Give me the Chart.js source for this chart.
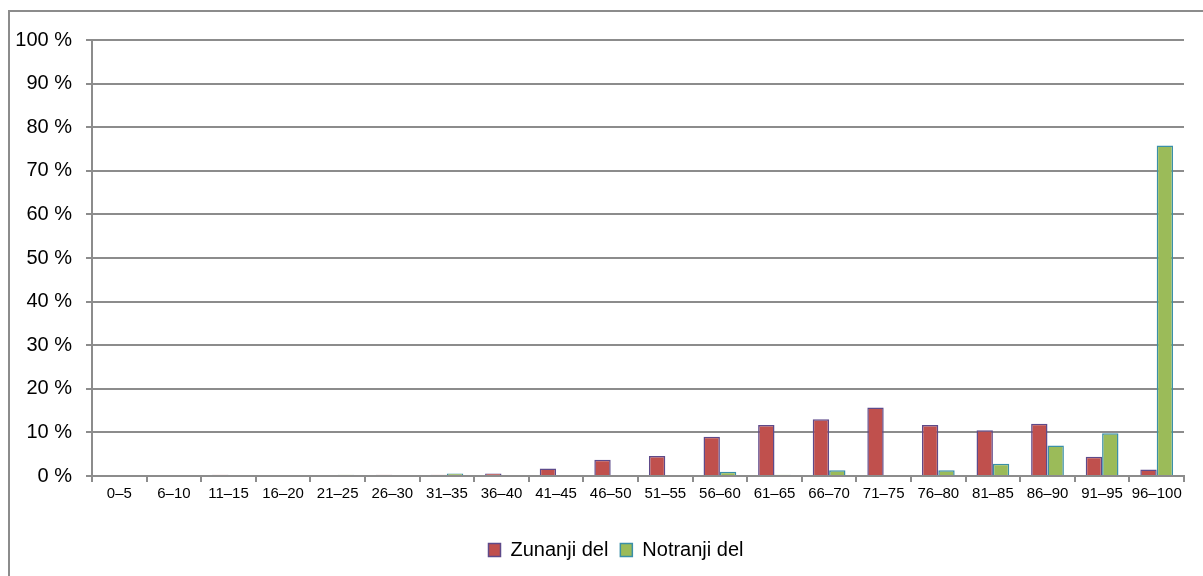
<!DOCTYPE html>
<html>
<head>
<meta charset="utf-8">
<script src="https://cdn.jsdelivr.net/npm/chart.js@4/dist/chart.umd.min.js"></script>
<style>
  html, body { margin: 0; padding: 0; background: #fff; }
  #wrap { position: relative; width: 1203px; height: 576px; overflow: hidden; }
  #frame { position: absolute; left: 8px; top: 10px; width: 1210px; height: 600px; border: 2px solid #8c8c8c; pointer-events: none; box-sizing: border-box; }
  canvas { position: absolute; left: 0; top: 0; }
</style>
</head>
<body>
<div id="wrap">
  <canvas id="chart" width="1203" height="576"></canvas>
  <div id="frame"></div>
</div>
<script>
// Razredi (v %)
const categories = ['0–5', '6–10', '11–15', '16–20', '21–25', '26–30', '31–35', '36–40', '41–45', '46–50',
  '51–55', '56–60', '61–65', '66–70', '71–75', '76–80', '81–85', '86–90', '91–95', '96–100'];

const zunanjiDel = [0, 0, 0.3, 0, 0, 0.3, 0.3, 0.6, 1.7, 3.7, 4.6, 9, 11.7, 13, 15.7, 11.7, 10.5, 12, 4.4, 1.5];
const notranjiDel = [0, 0, 0, 0, 0.3, 0, 0.6, 0, 0, 0, 0, 1, 0.3, 1.3, 0, 1.3, 2.8, 7, 9.8, 75.8];

const yTicks = [0, 10, 20, 30, 40, 50, 60, 70, 80, 90, 100];

const font = 'Liberation Sans, Arial, sans-serif';

// legend sits a bit right of the canvas centre in the original
const shiftLegend = {
  id: 'shiftLegend',
  afterLayout(chart) {
    const lg = chart.legend;
    if (!lg) return;
    lg.left += 24;
    lg.right += 24;
    lg.adjustHitBoxes();
  },
};

new Chart(document.getElementById('chart'), {
  type: 'bar',
  data: {
    labels: categories,
    datasets: [
      {
        label: 'Zunanji del',
        data: zunanjiDel,
        backgroundColor: '#c0504d',
        borderColor: '#5e4a8a',
        borderWidth: 1.5,
        categoryPercentage: 0.6,
        barPercentage: 1,
      },
      {
        label: 'Notranji del',
        data: notranjiDel,
        backgroundColor: '#9bbb59',
        borderColor: '#3a8fa8',
        borderWidth: 1.5,
        categoryPercentage: 0.6,
        barPercentage: 1,
      },
    ],
  },
  options: {
    responsive: false,
    animation: false,
    layout: { padding: { left: 0, right: 19, top: 40, bottom: 6 } },
    scales: {
      x: {
        grid: { offset: true, drawOnChartArea: false, drawTicks: true, tickLength: 6, color: '#8c8c8c', lineWidth: 2 },
        border: { color: '#8c8c8c', width: 2 },
        ticks: { color: '#000', font: { family: font, size: 15 }, padding: 3, maxRotation: 0, autoSkip: false },
        afterFit: (s) => { s.height = 52; },
      },
      y: {
        min: 0,
        max: 100,
        afterBuildTicks: (s) => { s.ticks = yTicks.map(v => ({ value: v })); },
        grid: { color: '#8c8c8c', lineWidth: 2, tickLength: 6 },
        border: { color: '#8c8c8c', width: 2 },
        ticks: { color: '#000', font: { family: font, size: 20 }, padding: 14, callback: (v) => v + ' %' },
        afterFit: (s) => { s.width = 92; },
      },
    },
    plugins: {
      legend: {
        position: 'bottom',
        labels: { color: '#000', font: { family: font, size: 20 }, boxWidth: 12, boxHeight: 13, padding: 12 },
      },
      tooltip: { enabled: false },
    },
  },
  plugins: [shiftLegend],
});
</script>
</body>
</html>
